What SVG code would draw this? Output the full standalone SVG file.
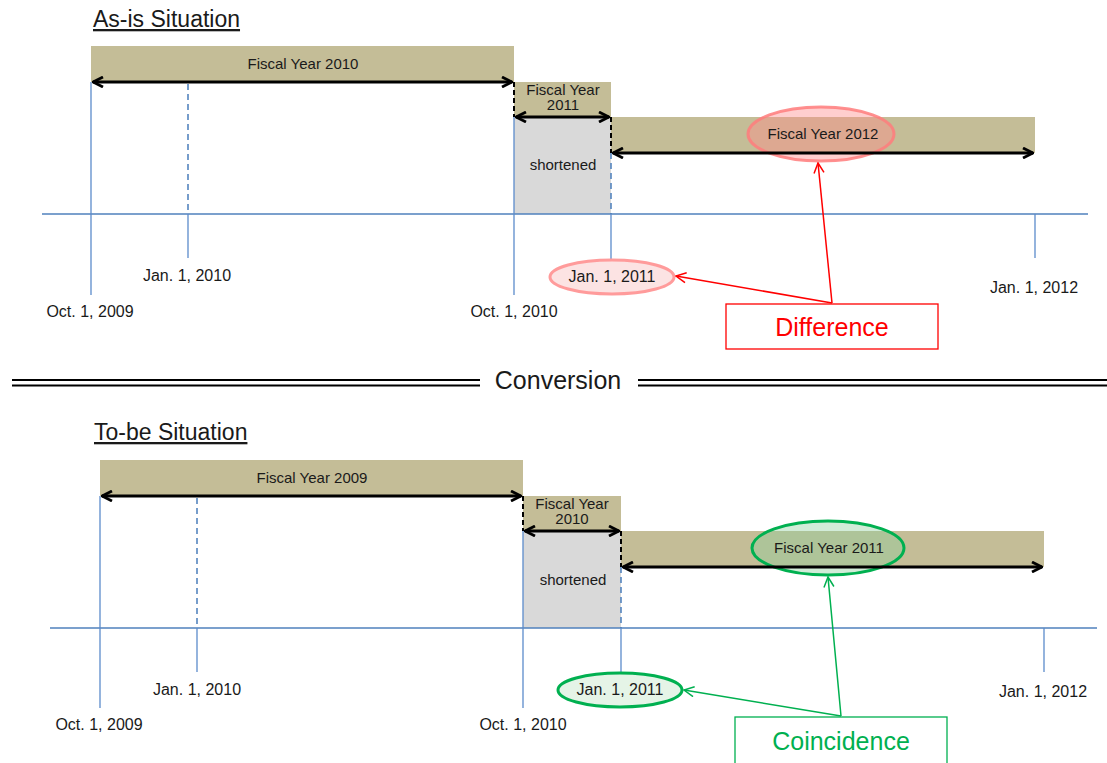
<svg xmlns="http://www.w3.org/2000/svg" width="1107" height="763" viewBox="0 0 1107 763">
<defs>
<style>
.t{font-family:"Liberation Sans",Arial,sans-serif;fill:#1a1a1a}
.lbl{font-size:16px;text-anchor:middle}
.fy{font-size:15px;text-anchor:middle}
.title{font-size:23px;text-decoration:underline}
.bar{fill:#C4BD97}
.gray{fill:#D9D9D9}
.ax{stroke:#4F81BD;stroke-width:1.5;fill:none}
.tk{stroke:#5B8BCB;stroke-width:1.3;fill:none}
.tkd{stroke:#4A7EBB;stroke-width:1.5;fill:none;stroke-dasharray:6,4}
.bd{stroke:#000;stroke-width:2;fill:none;stroke-dasharray:5,3}
.arr{stroke:#000;stroke-width:3;fill:none;marker-start:url(#ah);marker-end:url(#ah)}
.red{stroke:#FF0000;stroke-width:1.5;fill:none;marker-end:url(#ar)}
.grn{stroke:#00B050;stroke-width:1.5;fill:none;marker-end:url(#ag)}
</style>
<marker id="ah" viewBox="0 0 12 12" refX="11" refY="6" markerWidth="12" markerHeight="12" markerUnits="userSpaceOnUse" orient="auto-start-reverse"><path d="M1,1 L11,6 L1,11" fill="none" stroke="#000" stroke-width="2.8"/></marker>
<marker id="ar" viewBox="0 0 12 12" refX="11" refY="6" markerWidth="12" markerHeight="12" markerUnits="userSpaceOnUse" orient="auto"><path d="M1,1 L11,6 L1,11" fill="none" stroke="#FF0000" stroke-width="1.5"/></marker>
<marker id="ag" viewBox="0 0 12 12" refX="11" refY="6" markerWidth="12" markerHeight="12" markerUnits="userSpaceOnUse" orient="auto"><path d="M1,1 L11,6 L1,11" fill="none" stroke="#00B050" stroke-width="1.5"/></marker>
</defs>
<rect width="1107" height="763" fill="#fff"/>

<!-- ===== As-is ===== -->
<g id="asis-title"><text class="t title" x="93" y="27">As-is Situation</text></g>
<g id="asis-fy2010"><rect class="bar" x="91" y="46" width="423" height="36"/><text class="t fy" x="303" y="69">Fiscal Year 2010</text></g>
<g id="asis-fy2011"><rect class="bar" x="514" y="82" width="97" height="35"/><text class="t fy" x="563" y="95">Fiscal Year</text><text class="t fy" x="563" y="110">2011</text></g>
<g id="asis-shortened"><rect class="gray" x="514" y="117" width="97" height="97"/><text class="t fy" x="563" y="170">shortened</text></g>
<g id="asis-fy2012"><rect class="bar" x="611" y="117" width="424" height="36"/>
<g id="asis-hl"><ellipse cx="821" cy="134" rx="73" ry="27" fill="#FF8A8A" fill-opacity="0.42" stroke="#FF7C7C" stroke-opacity="0.85" stroke-width="3"/></g>
<text class="t fy" x="823" y="139">Fiscal Year 2012</text></g>

<g id="asis-axis">
<line class="ax" x1="42" y1="214" x2="1088" y2="214"/>
<line class="tk" x1="91" y1="82" x2="91" y2="295"/>
<line class="tkd" x1="188" y1="84" x2="188" y2="214"/>
<line class="tk" x1="188" y1="214" x2="188" y2="258"/>
<line class="tk" x1="514" y1="117" x2="514" y2="295"/>
<line class="tkd" x1="611" y1="153" x2="611" y2="214"/>
<line class="tk" x1="611" y1="214" x2="611" y2="262"/>
<line class="tk" x1="1035" y1="214" x2="1035" y2="258"/>
<line class="bd" x1="514" y1="82" x2="514" y2="117"/>
<line class="bd" x1="611" y1="117" x2="611" y2="153"/>
</g>

<g id="asis-labels">
<text class="t lbl" x="187" y="281">Jan. 1, 2010</text>
<text class="t lbl" x="90" y="317">Oct. 1, 2009</text>
<text class="t lbl" x="514" y="317">Oct. 1, 2010</text>
<text class="t lbl" x="1034" y="293">Jan. 1, 2012</text>
</g>
<g id="asis-jan2011"><ellipse cx="612" cy="277" rx="62" ry="17" fill="#FCE3E3" stroke="#FF9B9B" stroke-width="3"/><text class="t lbl" x="612" y="282">Jan. 1, 2011</text></g>
<g id="difference"><rect x="726" y="304" width="212" height="45" fill="#fff" stroke="#FF0000" stroke-width="1.3"/><text class="t" x="832" y="336" font-size="25" text-anchor="middle" style="fill:#FF0000">Difference</text></g>

<g id="asis-connectors">
<line class="arr" x1="93" y1="82" x2="512" y2="82"/>
<line class="arr" x1="516" y1="117" x2="609" y2="117"/>
<line class="arr" x1="613" y1="153" x2="1033" y2="153"/>
<line class="red" x1="832" y1="303" x2="818" y2="163"/>
<line class="red" x1="832" y1="303" x2="676" y2="276"/>
</g>

<!-- ===== Conversion ===== -->
<g id="conversion">
<line x1="12" y1="380" x2="480" y2="380" stroke="#000" stroke-width="2"/>
<line x1="12" y1="385.5" x2="480" y2="385.5" stroke="#000" stroke-width="2"/>
<line x1="638" y1="380" x2="1107" y2="380" stroke="#000" stroke-width="2"/>
<line x1="638" y1="385.5" x2="1107" y2="385.5" stroke="#000" stroke-width="2"/>
<text class="t" x="558" y="389" font-size="25" text-anchor="middle">Conversion</text>
</g>

<!-- ===== To-be ===== -->
<g id="tobe-title"><text class="t title" x="94" y="440">To-be Situation</text></g>
<g id="tobe-fy2009"><rect class="bar" x="100" y="460" width="423" height="36"/><text class="t fy" x="312" y="483">Fiscal Year 2009</text></g>
<g id="tobe-fy2010"><rect class="bar" x="523" y="496" width="98" height="35"/><text class="t fy" x="572" y="509">Fiscal Year</text><text class="t fy" x="572" y="524">2010</text></g>
<g id="tobe-shortened"><rect class="gray" x="523" y="531" width="98" height="97"/><text class="t fy" x="573" y="585">shortened</text></g>
<g id="tobe-fy2011"><rect class="bar" x="621" y="531" width="423" height="36"/>
<g id="tobe-hl"><ellipse cx="828" cy="548" rx="76" ry="27" fill="#8FCF9E" fill-opacity="0.4" stroke="#00B050" stroke-width="3"/></g>
<text class="t fy" x="829" y="553">Fiscal Year 2011</text></g>

<g id="tobe-axis">
<line class="ax" x1="50" y1="628" x2="1097" y2="628"/>
<line class="tk" x1="100" y1="496" x2="100" y2="708"/>
<line class="tkd" x1="197" y1="498" x2="197" y2="628"/>
<line class="tk" x1="197" y1="628" x2="197" y2="672"/>
<line class="tk" x1="523" y1="531" x2="523" y2="708"/>
<line class="tkd" x1="621" y1="567" x2="621" y2="628"/>
<line class="tk" x1="621" y1="628" x2="621" y2="672"/>
<line class="tk" x1="1044" y1="628" x2="1044" y2="672"/>
<line class="bd" x1="523" y1="496" x2="523" y2="531"/>
<line class="bd" x1="621" y1="531" x2="621" y2="567"/>
</g>

<g id="tobe-labels">
<text class="t lbl" x="197" y="695">Jan. 1, 2010</text>
<text class="t lbl" x="99" y="730">Oct. 1, 2009</text>
<text class="t lbl" x="523" y="730">Oct. 1, 2010</text>
<text class="t lbl" x="1043" y="697">Jan. 1, 2012</text>
</g>
<g id="tobe-jan2011"><ellipse cx="620" cy="690" rx="62" ry="17" fill="#E5F4E7" stroke="#00B050" stroke-width="3"/><text class="t lbl" x="620" y="695">Jan. 1, 2011</text></g>
<g id="coincidence"><rect x="735" y="717" width="212" height="50" fill="#fff" stroke="#00B050" stroke-width="1.3"/><text class="t" x="841" y="750" font-size="25" text-anchor="middle" style="fill:#00B050">Coincidence</text></g>

<g id="tobe-connectors">
<line class="arr" x1="102" y1="496" x2="521" y2="496"/>
<line class="arr" x1="525" y1="531" x2="619" y2="531"/>
<line class="arr" x1="623" y1="567" x2="1042" y2="567"/>
<line class="grn" x1="841" y1="716" x2="828" y2="577"/>
<line class="grn" x1="841" y1="716" x2="684" y2="690"/>
</g>
</svg>
